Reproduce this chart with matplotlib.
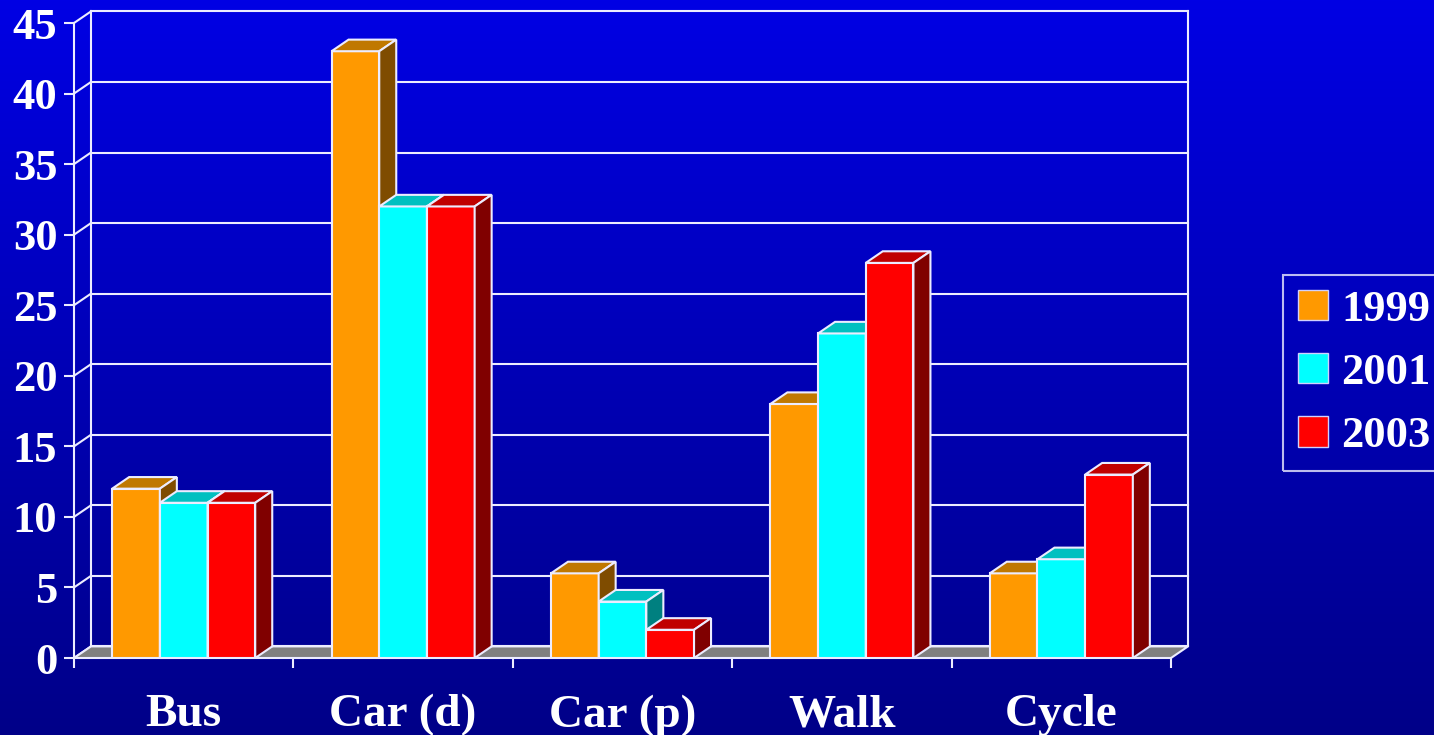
import numpy as np
import matplotlib
matplotlib.use("Agg")
import matplotlib.pyplot as plt
from matplotlib.patches import Polygon, Patch
from matplotlib.colors import LinearSegmentedColormap
from matplotlib.font_manager import FontProperties

# mode share (%) by survey year
categories = ["Bus", "Car (d)", "Car (p)", "Walk", "Cycle"]
years = ["1999", "2001", "2003"]
share_1999 = [12, 43, 6, 18, 6]
share_2001 = [11, 32, 4, 23, 7]
share_2003 = [11, 32, 2, 28, 13]
y_ticks = list(range(0, 50, 5))

FRONT = ["#ff9900", "#00ffff", "#ff0000"]
TOP = ["#c07800", "#00c0c0", "#c00000"]
SIDE = ["#7f4c00", "#008080", "#800000"]
LINE = "#ececff"

W, H = 1434, 735
fig = plt.figure(figsize=(W / 100, H / 100), dpi=100)

# blue gradient backdrop
bg = fig.add_axes([0, 0, 1, 1], zorder=0)
grad = np.linspace(0, 1, 256)[:, None]
bg.imshow(grad, aspect="auto", extent=[0, 1, 0, 1],
          cmap=LinearSegmentedColormap.from_list("bg", ["#0000e4", "#000088"]))
bg.axis("off")

# front plane of the plot box (pixels)
px0, px1, pyb, pyt = 74, 1171, 658, 23
ax = fig.add_axes([px0 / W, 1 - pyb / H, (px1 - px0) / W, (pyb - pyt) / H], zorder=1)
ax.set_xlim(0, 5)
ax.set_ylim(0, 45)
ax.patch.set_alpha(0)
# oblique depth offset in data units
dx = 17 / ((px1 - px0) / 5)
dy = 11.6 / ((pyb - pyt) / 45)

# back wall gridlines and side-wall diagonals
kw = dict(color=LINE, lw=1.5, clip_on=False, zorder=1)
for v in y_ticks:
    ax.plot([dx, 5 + dx], [v + dy, v + dy], **kw)
    ax.plot([0, dx], [v, v + dy], **kw)
ax.plot([dx, dx], [dy, 45 + dy], **kw)
ax.plot([5 + dx, 5 + dx], [dy, 45 + dy], **kw)

# floor
ax.add_patch(Polygon([(0, 0), (5, 0), (5 + dx, dy), (dx, dy)], closed=True,
                     facecolor="#808080", edgecolor=LINE, lw=1.5, zorder=2, clip_on=False))

# 3D bars: front face via ax.bar, then top and side faces
w = 1 / 4.6
series = [share_1999, share_2001, share_2003]
for j, vals in enumerate(series):
    lefts = np.arange(len(categories)) + 0.8 * w + j * w
    ax.bar(lefts, vals, width=w, align="edge", color=FRONT[j], edgecolor=LINE,
           lw=1.5, zorder=3 + j, label=years[j])
    for x, v in zip(lefts, vals):
        top = [(x, v), (x + w, v), (x + w + dx, v + dy), (x + dx, v + dy)]
        side = [(x + w, 0), (x + w + dx, dy), (x + w + dx, v + dy), (x + w, v)]
        ax.add_patch(Polygon(top, closed=True, facecolor=TOP[j], edgecolor=LINE,
                             lw=1.5, zorder=3 + j, clip_on=False))
        ax.add_patch(Polygon(side, closed=True, facecolor=SIDE[j], edgecolor=LINE,
                             lw=1.5, zorder=3 + j, clip_on=False))

font = FontProperties(family="Liberation Serif", weight="bold", size=32)
xfont = FontProperties(family="Liberation Serif", weight="bold", size=34)

for s in ["top", "right", "bottom"]:
    ax.spines[s].set_visible(False)
ax.spines["left"].set_color(LINE)
ax.spines["left"].set_linewidth(1.5)

ax.set_yticks(y_ticks)
ax.set_yticklabels([str(t) for t in y_ticks], fontproperties=font, color="white")
ax.tick_params(axis="y", length=7, width=1.5, color=LINE, pad=5)

ax.set_xticks(np.arange(len(categories)) + 0.5)
ax.set_xticklabels(categories, fontproperties=xfont, color="white")
ax.set_xticks(np.arange(len(categories) + 1), minor=True)
ax.tick_params(axis="x", which="major", length=0, pad=26)
ax.tick_params(axis="x", which="minor", length=7, width=1.5, color=LINE, direction="out")

handles = [Patch(facecolor=c, edgecolor="#d0d0ff", lw=1) for c in FRONT]
leg = fig.legend(handles, years, loc="upper left",
                 bbox_to_anchor=(1283 / W, 1 - 275 / H), prop=font,
                 frameon=True, fancybox=False, borderaxespad=0, borderpad=0.33,
                 handlelength=0.68, handleheight=0.68, handletextpad=0.3,
                 labelspacing=0.52)
leg.get_frame().set_facecolor("none")
leg.get_frame().set_edgecolor(LINE)
leg.get_frame().set_linewidth(1.5)
for t in leg.get_texts():
    t.set_color("white")

fig.savefig("out.png", dpi=100)
